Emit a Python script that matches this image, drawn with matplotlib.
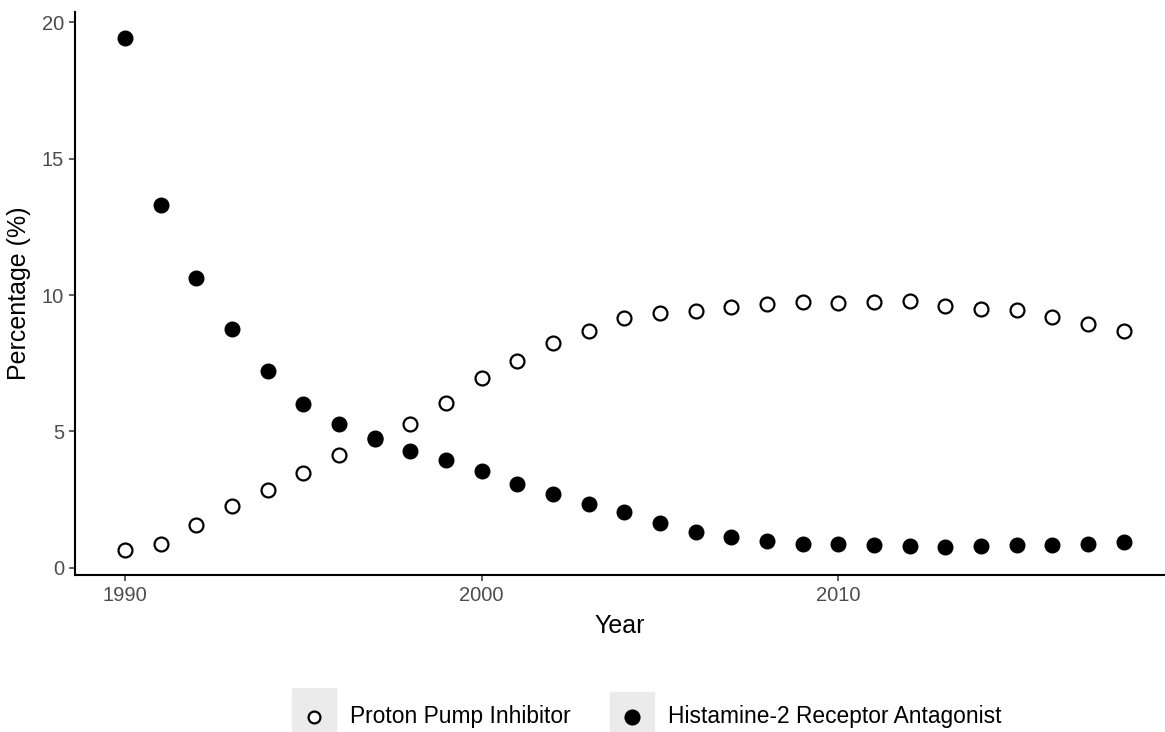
import matplotlib.pyplot as plt
from matplotlib.lines import Line2D
from matplotlib.patches import Rectangle

plt.rcParams['font.family'] = ['Liberation Sans', 'DejaVu Sans']

years = list(range(1990, 2019))
ppi = [0.67, 0.89, 1.58, 2.27, 2.86, 3.47, 4.14, 4.72, 5.28, 6.06,
       6.95, 7.60, 8.25, 8.68, 9.15, 9.33, 9.43, 9.55, 9.68, 9.75,
       9.72, 9.75, 9.78, 9.60, 9.49, 9.44, 9.18, 8.92, 8.69]
h2ra = [19.43, 13.28, 10.61, 8.76, 7.22, 5.99, 5.29, 4.76, 4.27, 3.94,
        3.56, 3.07, 2.71, 2.35, 2.04, 1.65, 1.33, 1.13, 0.97, 0.89,
        0.89, 0.83, 0.79, 0.77, 0.79, 0.83, 0.85, 0.89, 0.94]
labels = ['Proton Pump Inhibitor', 'Histamine-2 Receptor Antagonist']

fig = plt.figure(figsize=(11.65, 7.32), dpi=100)
ax = fig.add_axes([0.0644, 0.2141, 0.9356, 0.7695])

ax.plot(years, ppi, 'o', ms=10, mfc='white', mec='black', mew=1.6, zorder=3)
ax.plot(years, h2ra, 'o', ms=10.5, mfc='black', mec='black', zorder=4)

ax.set_xlim(1988.6, 2019.16)
ax.set_ylim(-0.27, 20.37)
ax.set_xticks([1990, 2000, 2010])
ax.set_yticks([0, 5, 10, 15, 20])

for side in ['top', 'right']:
    ax.spines[side].set_visible(False)
for side in ['left', 'bottom']:
    ax.spines[side].set_linewidth(1.5)
ax.tick_params(length=4, width=1.1, color='#333333', labelcolor='#4d4d4d',
               labelsize=14.5, pad=4)

ax.set_xlabel('Year', fontsize=18, labelpad=6)
ax.set_ylabel('Percentage (%)', fontsize=18, labelpad=8)

# legend row at the bottom with grey key boxes
keys = [(292, 688, 'white', labels[0]), (610, 692, 'black', labels[1])]
W, H = 1165, 732
for x0, y0, face, text in keys:
    fig.patches.append(Rectangle((x0 / W, 0), 44 / W, (H - y0) / H,
                                 transform=fig.transFigure, color='#ebebeb',
                                 zorder=0))
    cx = (x0 + 22) / W
    fig.add_artist(Line2D([cx], [(H - 717) / H], marker='o', ls='none',
                          ms=10 if face == 'black' else 8.5,
                          mfc=face, mec='black', mew=1.6,
                          transform=fig.transFigure))
    fig.text((x0 + 58) / W, (H - 716) / H, text, fontsize=16.4,
             va='center', ha='left')

fig.savefig('out.png', dpi=100)
